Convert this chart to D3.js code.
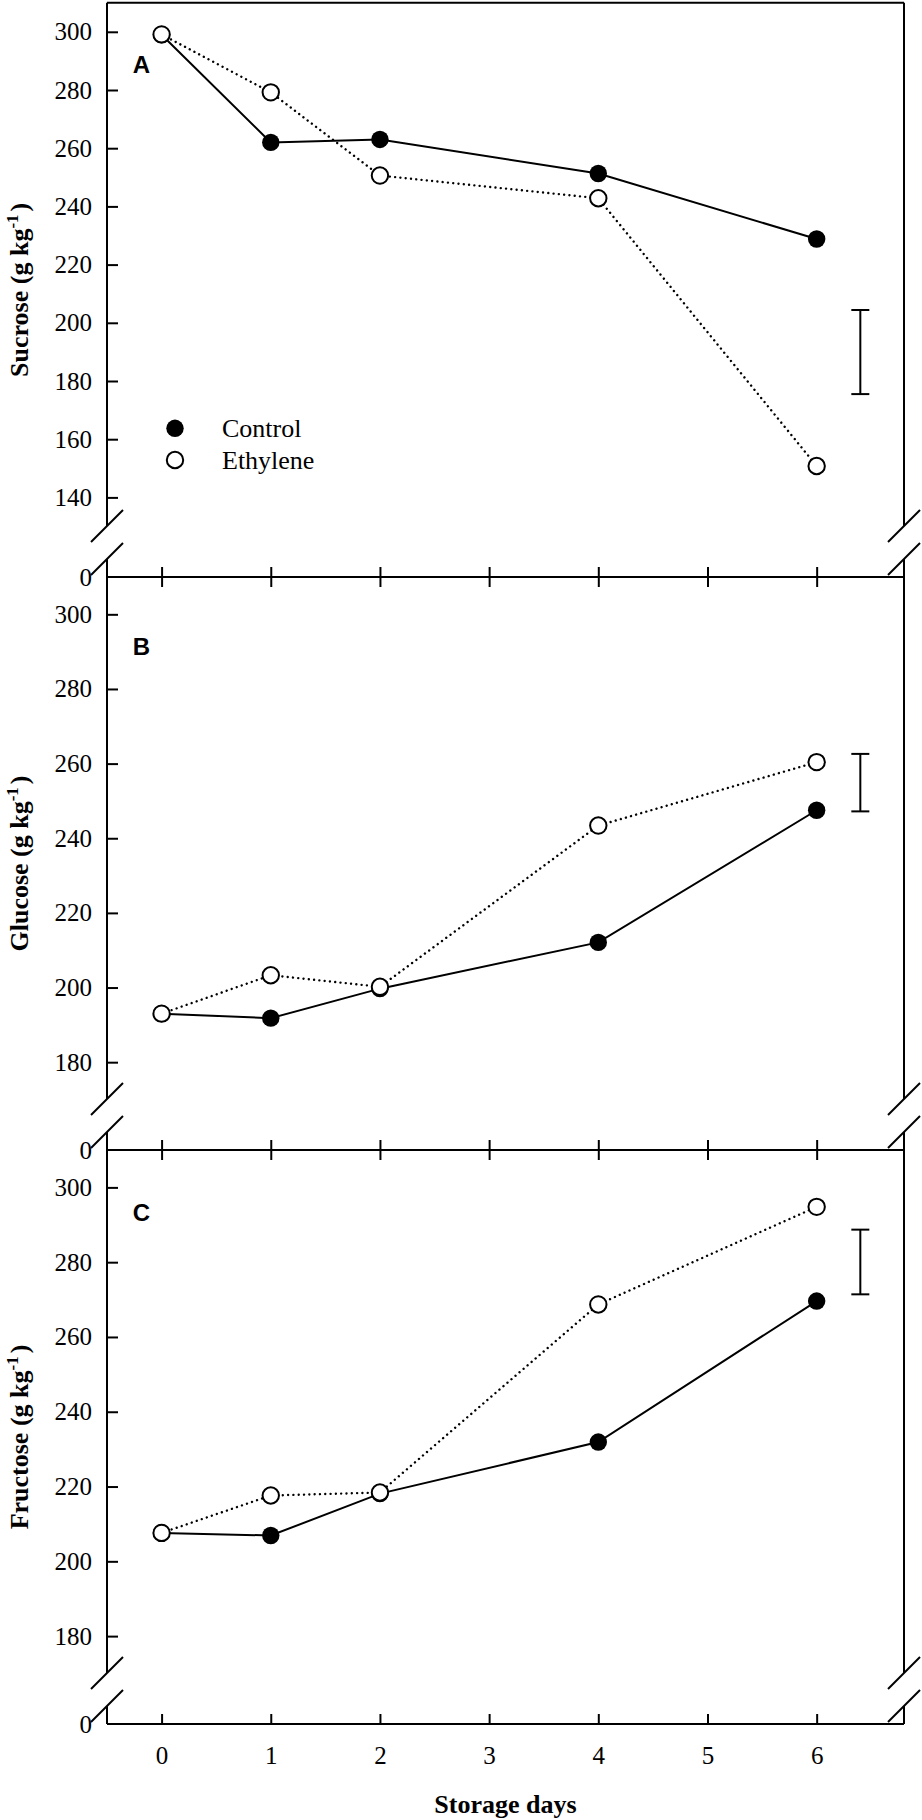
<!DOCTYPE html>
<html>
<head>
<meta charset="utf-8">
<script src="https://cdn.jsdelivr.net/npm/d3@7/dist/d3.min.js"></script>
<style>
  body { margin: 0; background: #fff; }
  svg { display: block; }
</style>
</head>
<body>
<div id="chart"></div>
<script>
// Sugar content during storage, three stacked panels sharing one x axis

// ---- data ----
const days = [0, 1, 2, 4, 6];
const xTicks = [0, 1, 2, 3, 4, 5, 6];

const sucroseControl  = [299.0, 262.0, 263.0, 251.3, 228.8];
const sucroseEthylene = [299.1, 279.2, 250.6, 242.8, 150.8];
const glucoseControl  = [193.0, 191.8, 199.7, 212.1, 247.5];
const glucoseEthylene = [193.0, 203.3, 200.2, 243.4, 260.4];
const fructoseControl  = [207.6, 206.9, 218.1, 231.9, 269.6];
const fructoseEthylene = [207.6, 217.6, 218.4, 268.7, 294.8];

// LSD-style bars drawn at day 6.4: [low, high]
const errDay = 6.4;
const sucroseErr  = [175.5, 204.4];
const glucoseErr  = [247.2, 262.6];
const fructoseErr = [271.4, 288.7];

const sucroseTicks  = [140, 160, 180, 200, 220, 240, 260, 280, 300];
const glucoseTicks  = [180, 200, 220, 240, 260, 280, 300];
const fructoseTicks = [180, 200, 220, 240, 260, 280, 300];

const seriesNames = ['Control', 'Ethylene'];

// ---- layout ----
const width = 922, height = 1820;
const left = 107, right = 904;
const serif = '"Liberation Serif", "Times New Roman", serif';
const sans = '"Liberation Sans", Arial, sans-serif';

const panels = [
  { letter: 'A', title: 'Sucrose', control: sucroseControl, ethylene: sucroseEthylene,
    ticks: sucroseTicks, err: sucroseErr, lo: 130, top: 2.7, bottom: 577, letterDy: 70 },
  { letter: 'B', title: 'Glucose', control: glucoseControl, ethylene: glucoseEthylene,
    ticks: glucoseTicks, err: glucoseErr, lo: 170, top: 577, bottom: 1150, letterDy: 78 },
  { letter: 'C', title: 'Fructose', control: fructoseControl, ethylene: fructoseEthylene,
    ticks: fructoseTicks, err: fructoseErr, lo: 170, top: 1150, bottom: 1724, letterDy: 71 }
];

const svg = d3.select('#chart').append('svg')
  .attr('width', width)
  .attr('height', height);

const x = d3.scaleLinear().domain([-0.5, 6.8]).range([left, right]);

// top border of the first panel
svg.append('line')
  .attr('x1', left).attr('x2', right)
  .attr('y1', panels[0].top).attr('y2', panels[0].top)
  .attr('stroke', '#000').attr('stroke-width', 2);

panels.forEach((p, pi) => {
  const y = d3.scaleLinear().domain([p.lo, 310]).range([p.bottom - 50.5, p.top]);
  const g = svg.append('g').attr('class', 'panel-' + p.letter);
  const isLast = pi === panels.length - 1;

  // vertical axes with a break near the bottom
  [left, right].forEach(ax => {
    g.append('line')
      .attr('x1', ax).attr('x2', ax)
      .attr('y1', p.top).attr('y2', p.bottom - 51)
      .attr('stroke', '#000').attr('stroke-width', 2);
    g.append('line')
      .attr('x1', ax).attr('x2', ax)
      .attr('y1', p.bottom - 18).attr('y2', p.bottom)
      .attr('stroke', '#000').attr('stroke-width', 2);
    [p.bottom - 51, p.bottom - 18].forEach(by => {
      g.append('line')
        .attr('x1', ax - 16).attr('y1', by + 16)
        .attr('x2', ax + 16).attr('y2', by - 16)
        .attr('stroke', '#000').attr('stroke-width', 2);
    });
  });

  // y ticks pointing inward
  const yAxis = g.append('g')
    .attr('transform', `translate(${left},0)`)
    .call(d3.axisLeft(y).tickValues(p.ticks).tickSizeInner(-11).tickSizeOuter(0).tickPadding(15));
  yAxis.select('.domain').remove();
  yAxis.selectAll('line').attr('stroke-width', 2);
  yAxis.selectAll('text')
    .attr('font-family', serif).attr('font-size', 25).attr('fill', '#000');

  // zero label at the broken end
  g.append('text')
    .attr('x', left - 15).attr('y', p.bottom + 1)
    .attr('dy', '0.32em')
    .attr('text-anchor', 'end')
    .attr('font-family', serif).attr('font-size', 25)
    .text('0');

  // x axis at the bottom of the panel
  const xAxis = g.append('g')
    .attr('transform', `translate(0,${p.bottom})`)
    .call(d3.axisBottom(x).tickValues(xTicks).tickSizeOuter(0)
      .tickSizeInner(isLast ? -10 : 10).tickPadding(22));
  xAxis.select('.domain').remove();
  xAxis.selectAll('line').attr('stroke-width', 2);
  if (isLast) {
    xAxis.selectAll('text')
      .attr('font-family', serif).attr('font-size', 25).attr('fill', '#000');
  } else {
    xAxis.selectAll('line').attr('y1', -10);
    xAxis.selectAll('text').remove();
  }
  g.append('line')
    .attr('x1', left).attr('x2', right)
    .attr('y1', p.bottom).attr('y2', p.bottom)
    .attr('stroke', '#000').attr('stroke-width', 2);

  // series lines
  const line = d3.line()
    .x((d, i) => x(days[i]))
    .y(d => y(d));

  g.append('path')
    .datum(p.control)
    .attr('d', line)
    .attr('fill', 'none')
    .attr('stroke', '#000')
    .attr('stroke-width', 2);

  g.append('path')
    .datum(p.ethylene)
    .attr('d', line)
    .attr('fill', 'none')
    .attr('stroke', '#000')
    .attr('stroke-width', 2.4)
    .attr('stroke-linecap', 'round')
    .attr('stroke-dasharray', '0.01 5.3');

  // markers: filled control, open ethylene on top
  g.selectAll('.ctrl')
    .data(p.control)
    .enter().append('circle')
    .attr('class', 'ctrl')
    .attr('cx', (d, i) => x(days[i]))
    .attr('cy', d => y(d))
    .attr('r', 8.7)
    .attr('fill', '#000');

  g.selectAll('.eth')
    .data(p.ethylene)
    .enter().append('circle')
    .attr('class', 'eth')
    .attr('cx', (d, i) => x(days[i]))
    .attr('cy', d => y(d))
    .attr('r', 8.2)
    .attr('fill', '#fff')
    .attr('stroke', '#000')
    .attr('stroke-width', 2);

  // error bar
  const ex = x(errDay);
  g.append('line')
    .attr('x1', ex).attr('x2', ex)
    .attr('y1', y(p.err[0])).attr('y2', y(p.err[1]))
    .attr('stroke', '#000').attr('stroke-width', 2);
  p.err.forEach(v => {
    g.append('line')
      .attr('x1', ex - 9).attr('x2', ex + 9)
      .attr('y1', y(v)).attr('y2', y(v))
      .attr('stroke', '#000').attr('stroke-width', 2);
  });

  // panel letter
  g.append('text')
    .attr('x', 141.5).attr('y', p.top + p.letterDy)
    .attr('text-anchor', 'middle')
    .attr('font-family', sans).attr('font-weight', 'bold').attr('font-size', 24)
    .text(p.letter);

  // y axis title
  const title = g.append('text')
    .attr('transform', `translate(28,${(p.top + p.bottom) / 2}) rotate(-90)`)
    .attr('text-anchor', 'middle')
    .attr('font-family', serif).attr('font-weight', 'bold').attr('font-size', 26);
  title.append('tspan').text(p.title + ' (g kg');
  title.append('tspan').attr('dy', -10).attr('font-size', 17).text('-1');
  title.append('tspan').attr('dy', 10).attr('dx', 3).text(')');
});

// legend in panel A
const legend = svg.append('g').attr('class', 'legend');
seriesNames.forEach((name, i) => {
  const ly = 428.3 + i * 31.7;
  legend.append('circle')
    .attr('cx', 175).attr('cy', ly)
    .attr('r', i === 0 ? 8.7 : 8.2)
    .attr('fill', i === 0 ? '#000' : '#fff')
    .attr('stroke', '#000')
    .attr('stroke-width', i === 0 ? 0 : 2);
  legend.append('text')
    .attr('x', 222).attr('y', ly + 8.7)
    .attr('font-family', serif).attr('font-size', 26)
    .text(name);
});

// shared x title
svg.append('text')
  .attr('x', (left + right) / 2).attr('y', 1813)
  .attr('text-anchor', 'middle')
  .attr('font-family', serif).attr('font-weight', 'bold').attr('font-size', 26)
  .text('Storage days');
</script>
</body>
</html>
